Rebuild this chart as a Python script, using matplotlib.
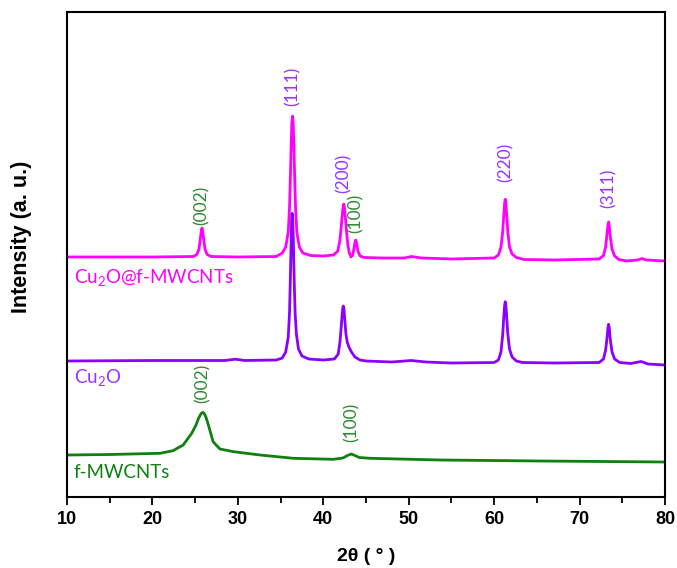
import matplotlib
matplotlib.use("Agg")
from matplotlib import pyplot as plt
from matplotlib.ticker import MultipleLocator

plt.rcParams['mathtext.fontset'] = 'custom'
plt.rcParams['mathtext.rm'] = 'Lato'
plt.rcParams['mathtext.it'] = 'Lato:italic'

# Cu2O@f-MWCNTs (magenta), already offset
tt_cm = [10, 20, 24.8, 25.2, 25.45, 25.6, 25.72, 25.8, 25.88, 26.0, 26.15, 26.4, 26.9, 30, 34.5,
         35.2, 35.6, 35.9, 36.05, 36.15, 36.25, 36.33, 36.4, 36.47, 36.55, 36.65, 36.75, 36.9,
         37.2, 37.6, 38.5, 40, 41.2, 41.7, 41.95, 42.12, 42.25, 42.34, 42.4, 42.47, 42.58,
         42.72, 42.88, 43.05, 43.25, 43.45, 43.6, 43.72, 43.8, 43.9, 44.05, 44.3, 44.8, 47,
         49.5, 50.3, 51.5, 55, 60.0, 60.5, 60.8, 61.0, 61.13, 61.23, 61.3, 61.37, 61.47, 61.6,
         61.8, 62.1, 62.6, 63.5, 67, 72.3, 72.8, 73.05, 73.2, 73.32, 73.4, 73.48, 73.6, 73.8,
         74.1, 74.6, 75.5, 76.8, 77.3, 77.8, 80]
int_cm = [240, 240, 240.5, 242.5, 248, 258, 266, 269, 266, 258, 248, 242.5, 240.5, 240, 240.5,
          244, 250, 265, 290, 320, 355, 375, 381, 375, 355, 320, 290, 265,
          250, 244, 241.5, 241, 242, 246, 257, 272, 285, 291, 293, 290, 280,
          265, 252, 244, 240, 242, 249, 255, 257, 254, 246, 241, 239.5, 239,
          239, 240.5, 239, 238, 239, 242, 250, 265, 282, 294, 297.7, 294, 282, 265,
          250, 243, 239.5, 237.5, 237, 238, 241.5, 250, 262, 272, 275, 271, 260, 248,
          241, 237.5, 236, 237, 238.5, 237, 236]

# Cu2O (purple)
tt_c = [10, 20, 28.5, 29.7, 30.8, 34.5, 35.2, 35.6, 35.9, 36.05, 36.15, 36.25, 36.3, 36.35,
        36.42, 36.5, 36.6, 36.7, 36.85, 37.1, 37.5, 38.3, 40, 41.3, 41.75, 41.95, 42.1, 42.22,
        42.3, 42.35, 42.42, 42.52, 42.65, 42.8, 43.0, 43.3, 43.7, 44.3, 45, 48, 50.3, 52, 55,
        60.0, 60.5, 60.8, 61.0, 61.13, 61.23, 61.3, 61.37, 61.47, 61.6, 61.8, 62.1, 62.6, 63.3,
        67, 72.3, 72.8, 73.05, 73.2, 73.32, 73.4, 73.48, 73.6, 73.8, 74.1, 74.7, 76, 77.2, 78, 80]
int_c = [136, 136.5, 136.5, 137.8, 136.5, 137, 139, 145, 160, 185, 220, 260, 278, 283.7,
         278, 255, 215, 185, 163, 148, 141, 138, 137, 138, 143, 155, 170, 184,
         190, 191, 188, 177, 163, 155, 150, 145, 140, 137, 136, 135, 136.5, 135, 134,
         134.5, 137, 145, 162, 180, 192, 195.3, 192, 180, 163, 148, 140, 136, 134.5,
         134, 134.5, 138, 147, 158, 169, 172.7, 169, 157, 145, 138, 134.5, 133.5, 135.5, 133, 132]

# f-MWCNTs (green)
tt_f = [10, 15, 20.9, 22.4, 23.6, 24.6, 25.1, 25.4, 25.7, 25.9, 26.1, 26.3, 26.55, 27.1, 27.9,
        29.5, 32.6, 36.5, 41.2, 42.3, 42.9, 43.3, 43.7, 44.2, 45.5, 53.7, 65.4, 80]
int_f = [42, 42.5, 43.7, 46.3, 52, 63.7, 72, 78.7, 83.5, 84.7, 83, 79, 72, 55.3, 48,
         45.3, 42, 38.7, 37.7, 39, 41.8, 43, 41.5, 39.5, 38.7, 37, 36, 35]

hkl_labels = ['(002)', '(111)', '(200)', '(100)', '(220)', '(311)', '(002)', '(100)']
hkl_x = [25.8, 36.4, 42.4, 43.8, 61.3, 73.4, 25.9, 43.3]
hkl_y = [292, 411, 324, 284, 335, 309, 114, 75]

c_mag = '#ff00ff'
c_pur = '#8c00ff'
c_grn = '#108010'
t_pur = '#9a33ff'
t_grn = '#2e8b2e'
hkl_col = [t_grn, t_pur, t_pur, t_grn, t_pur, t_pur, t_grn, t_grn]

fig = plt.figure(figsize=(6.77, 5.68), dpi=100)
ax = fig.add_axes([67/677, 71/568, 598/677, 485/568])

for xs, ys, c in [(tt_cm, int_cm, c_mag), (tt_c, int_c, c_pur), (tt_f, int_f, c_grn)]:
    ax.plot(xs, ys, color=c, lw=2, solid_joinstyle='round', solid_capstyle='round')

for lab, x, y, c in zip(hkl_labels, hkl_x, hkl_y, hkl_col):
    ax.text(x, y, lab, rotation=90, ha='center', va='center', color=c,
            fontsize=12.5, family='Lato')

ax.text(10.8, 220, r'Cu$_2$O@f-MWCNTs', color=c_mag, fontsize=13.5, family='Lato', va='center')
ax.text(10.8, 119, r'Cu$_2$O', color=t_pur, fontsize=13.5, family='Lato', va='center')
ax.text(10.8, 25, 'f-MWCNTs', color=c_grn, fontsize=13.5, family='Lato', va='center')

ax.set_xlim(10, 80)
ax.set_ylim(0, 485)
ax.xaxis.set_major_locator(MultipleLocator(10))
ax.xaxis.set_minor_locator(MultipleLocator(5))
ax.tick_params(axis='x', which='major', direction='out', length=6, width=1.3, pad=4)
ax.tick_params(axis='x', which='minor', direction='out', length=4, width=1.3)
ax.set_yticks([])
for sp in ax.spines.values():
    sp.set_linewidth(1.5)

for t in ax.get_xticklabels():
    t.set_family('Liberation Sans')
    t.set_fontweight('bold')
    t.set_fontsize(13)

ax.set_xlabel('2θ ( ° )', fontsize=14, fontweight='bold', family='Liberation Sans')
ax.xaxis.set_label_coords(0.5, -0.105)
fig.text(22/677, 1 - 237/568, 'Intensity (a. u.)', rotation=90, ha='center', va='center',
         fontsize=15.5, fontweight='bold', family='Liberation Sans')

fig.savefig('out.png', dpi=100)
